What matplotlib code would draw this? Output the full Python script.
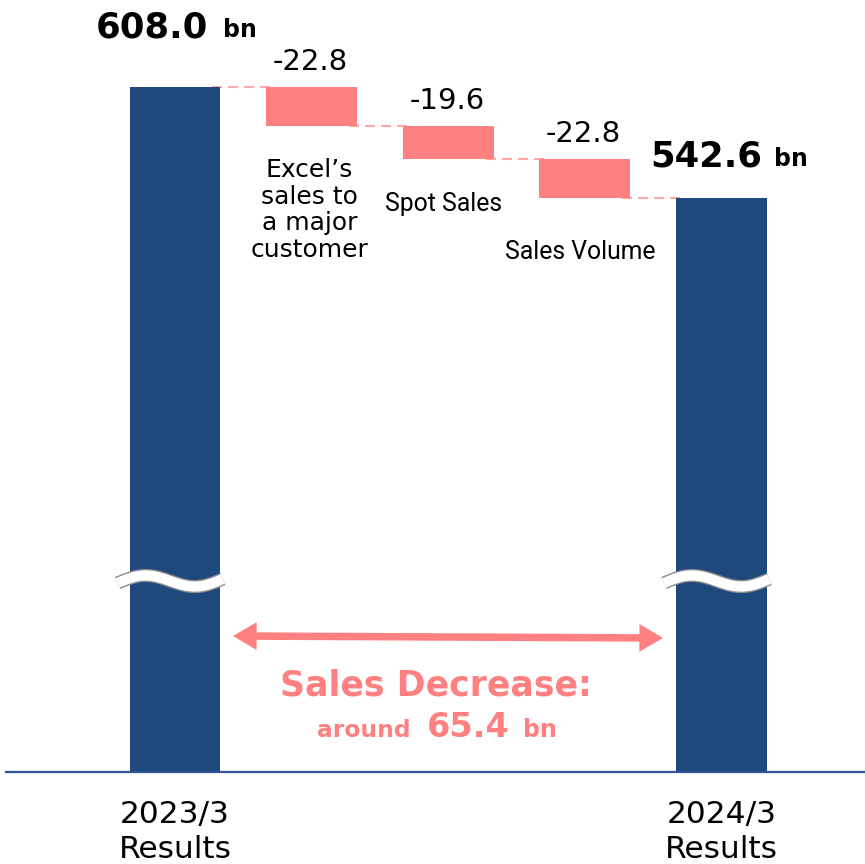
import numpy as np
import matplotlib.pyplot as plt
from matplotlib.patches import FancyArrowPatch
from matplotlib.transforms import blended_transform_factory

# data
start_label, end_label = "2023/3\nResults", "2024/3\nResults"
start_value, end_value = 608.0, 542.6
change_labels = ["Excel\u2019s\nsales to\na major\ncustomer", "Spot Sales", "Sales Volume"]
change_values = [-22.8, -19.6, -22.8]
total_decrease = 65.4

NAVY, SALMON, DASH = "#1F497D", "#FF8080", "#FFA6A6"
W_PX, H_PX, AX_H_PX = 865, 864, 772

fig = plt.figure(figsize=(W_PX / 100, H_PX / 100), dpi=100)
ax = fig.add_axes([0, (H_PX - AX_H_PX) / H_PX, 1, AX_H_PX / H_PX])
ax.set_xlim(-1.281, 5.051)
ax.set_ylim(205.1, 659.2)
ax.axis("off")

def fx(px): return px / W_PX
def fy(py): return 1 - py / AX_H_PX

bw = 0.666
n = len(change_values)
x_start, x_end = 0, n + 1
x_chg = np.arange(1, n + 1)
levels = start_value + np.concatenate([[0], np.cumsum(change_values)])

# totals (clipped by the broken axis at the bottom)
ax.bar([x_start, x_end], [start_value, end_value], width=bw, color=NAVY, zorder=3)
# changes
ax.bar(x_chg, np.abs(change_values), bottom=levels[1:], width=bw, color=SALMON, zorder=3)

# dashed connectors
xs = [x_start] + list(x_chg)
for i in range(n + 1):
    x0 = xs[i] + bw / 2 - 0.06
    x1 = (xs[i] + 1) - bw / 2 + 0.07
    ax.plot([x0, x1], [levels[i], levels[i]], color=DASH, lw=1.5,
            ls=(0, (4.8, 2.9)), zorder=2)

# change value labels and category names (offsets in px, to last line baseline)
name_dy = [-131, -52, -61]
name_dx = [-2, -5, -5]
for i, (xv, v) in enumerate(zip(x_chg, change_values)):
    ax.annotate(f"{v:.1f}", (xv, levels[i]), xytext=(-1, 12.2), textcoords="offset points",
                ha="center", va="baseline", fontsize=21, color="black")
    off = (name_dx[i] * 0.72, name_dy[i] * 0.72)
    if i == 0:
        ax.annotate(change_labels[i], (xv, levels[i + 1]), xytext=off,
                    textcoords="offset points", ha="center", va="baseline", fontsize=18,
                    linespacing=1.13, multialignment="center")
    else:
        ax.annotate(change_labels[i], (xv, levels[i + 1]), xytext=off,
                    textcoords="offset points", ha="center", va="baseline", fontsize=17.8,
                    family=["Roboto", "DejaVu Sans"])

# total labels
for xv, v, dy, dx_num, dx_bn in [(x_start, start_value, 50, 33, 48), (x_end, end_value, 32, 40.5, 52.5)]:
    ax.annotate(f"{v:.1f}", (xv, v), xytext=(dx_num * 0.72, dy * 0.72), textcoords="offset points",
                ha="right", va="baseline", fontsize=25.5, fontweight="bold")
    ax.annotate("bn", (xv, v), xytext=(dx_bn * 0.72, dy * 0.72), textcoords="offset points",
                ha="left", va="baseline", fontsize=17, fontweight="bold")

# axis break marks
bt = blended_transform_factory(ax.transData, ax.transAxes)
t = np.linspace(0, 1, 100)
wave_py = 581 - 6.5 * np.sin(2 * np.pi * t) - 4 * (t - 0.5)
for xv in [x_start, x_end]:
    wx = xv - 0.42 + 0.77 * t
    ax.plot(wx, fy(wave_py), transform=bt, color="#8C8C8C", lw=9.4,
            solid_capstyle="butt", zorder=4)
    ax.plot(wx, fy(wave_py), transform=bt, color="white", lw=7.4,
            solid_capstyle="butt", zorder=5)

# baseline
ax.plot([fx(6), 1], [0, 0], transform=ax.transAxes, color="#2F5597", lw=1.6,
        clip_on=False, zorder=6)

# category labels under the totals (y = last line baseline)
for xv, lab in [(x_start, start_label), (x_end, end_label)]:
    ax.text(xv, fy(858), lab, transform=bt, ha="center", va="baseline",
            fontsize=22.5, linespacing=1.26)

# decrease arrow (two heads drawn from the middle) and text
mid = ((fx(233) + fx(663)) / 2, (fy(636) + fy(638)) / 2)
for tip in [(fx(233), fy(636)), (fx(663), fy(638))]:
    ax.add_patch(FancyArrowPatch(mid, tip, transform=ax.transAxes,
                                 arrowstyle="simple,head_length=0.85,head_width=1.0,tail_width=0.27",
                                 mutation_scale=20, lw=0, color=SALMON, shrinkA=0, shrinkB=0,
                                 zorder=4))
ax.text(fx(436), fy(695), "Sales Decrease:", transform=ax.transAxes, ha="center",
        va="baseline", fontsize=25, fontweight="bold", color=SALMON)
ax.text(fx(317), fy(737), "around", transform=ax.transAxes, ha="left", va="baseline",
        fontsize=16.8, fontweight="bold", color=SALMON)
ax.text(fx(427), fy(737), f"{total_decrease:.1f}", transform=ax.transAxes, ha="left",
        va="baseline", fontsize=24.2, fontweight="bold", color=SALMON)
ax.text(fx(523), fy(737), "bn", transform=ax.transAxes, ha="left", va="baseline",
        fontsize=17, fontweight="bold", color=SALMON)

fig.savefig("out.png", dpi=100)
